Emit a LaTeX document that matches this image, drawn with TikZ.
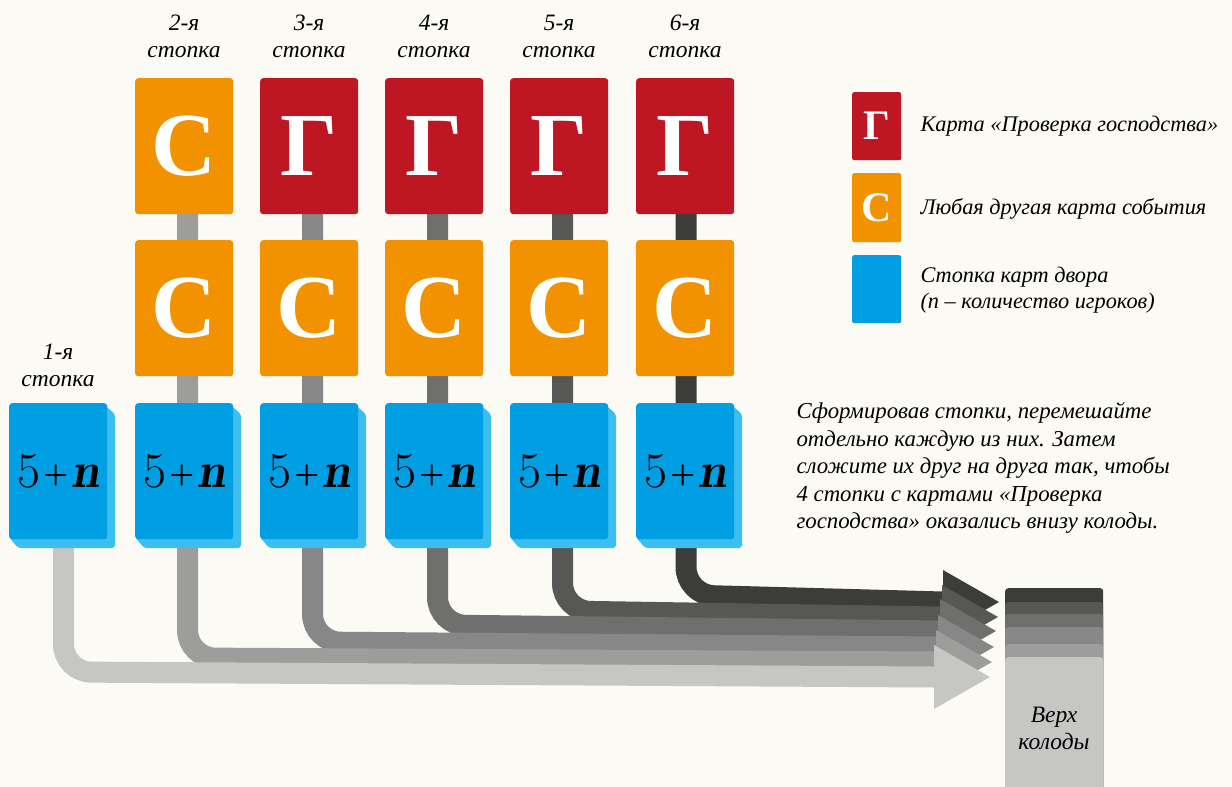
\documentclass[tikz,border=0pt]{standalone}
\usepackage{fontspec}
\setmainfont{Liberation Serif}
\usetikzlibrary{calc}
\definecolor{bgc}{HTML}{FBFAF5}
\definecolor{gred}{HTML}{BE1622}
\definecolor{sorange}{HTML}{F39200}
\definecolor{bblue}{HTML}{009FE3}
\definecolor{bshade}{HTML}{3DBEEF}
\definecolor{g1}{HTML}{C6C6C5}
\definecolor{g2}{HTML}{9D9D9C}
\definecolor{g3}{HTML}{878787}
\definecolor{g4}{HTML}{6F6F6E}
\definecolor{g5}{HTML}{575756}
\definecolor{g6}{HTML}{3C3C3B}
\tikzset{
  card/.style={rounded corners=3pt, minimum width=98pt, minimum height=136pt, inner sep=0pt, anchor=north west, text=white, font=\fontsize{90}{94}\selectfont\bfseries},
  cardG/.style={card, fill=gred},
  cardS/.style={card, fill=sorange},
  cardB/.style={card, fill=bblue, text=black, font=\fontfamily{lmr}\fontsize{50}{60}\selectfont},
  lgbox/.style={rounded corners=2pt, minimum width=49pt, minimum height=68pt, inner sep=0pt, anchor=north west, text=white, font=\fontsize{42}{46}\selectfont\bfseries},
  lbl/.style={align=center, font=\fontsize{23.5}{27}\selectfont\itshape},
  txt/.style={align=left, anchor=west, font=\fontsize{22.3}{26}\selectfont\itshape},
  bar/.style={line width=21pt, rounded corners=28pt, line cap=butt},
  layer/.style={rounded corners=3pt, minimum width=98pt, inner sep=0pt, anchor=north west}
}
\newcommand{\fivn}{5\kern3pt{\bfseries\fontsize{32}{32}\selectfont\raisebox{4pt}{+}}\kern3pt{\bfseries\itshape n}}
\begin{document}
\begin{tikzpicture}[x=1pt,y=-1pt]
\fill[bgc] (0,0) rectangle (1232,787);
\useasboundingbox (0,0) rectangle (1232,787);

% deck layers
\node[layer, fill=g6, minimum height=220pt] (d6) at (1005,588) {};
\node[layer, fill=g5, minimum height=210pt] (d5) at (1005,602) {};
\node[layer, fill=g4, minimum height=200pt] (d4) at (1005,614) {};
\node[layer, fill=g3, minimum height=190pt] (d3) at (1005,627) {};
\node[layer, fill=g2, minimum height=170pt] (d2) at (1005,644) {};
\node[layer, fill=g1, minimum height=150pt] (d1) at (1005,657) {};
\node[lbl] (top) at (1054,728) {Верх\\колоды};

% coordinates for the flows
\coordinate (s1) at (63.5,470);  \coordinate (k1) at (63.5,672);  \coordinate (a1) at (934,677);
\coordinate (s2) at (187.5,150); \coordinate (k2) at (187.5,658); \coordinate (a2) at (936,662);
\coordinate (s3) at (312.5,150); \coordinate (k3) at (312.5,642); \coordinate (a3) at (938,647);
\coordinate (s4) at (437.5,150); \coordinate (k4) at (437.5,625); \coordinate (a4) at (940,631);
\coordinate (s5) at (562.5,150); \coordinate (k5) at (562.5,611); \coordinate (a5) at (942,617);
\coordinate (s6) at (686,150);   \coordinate (k6) at (686,595);   \coordinate (a6) at (943,602);

\foreach \i/\c in {6/g6,5/g5,4/g4,3/g3,2/g2,1/g1}{
  \draw[bar, draw=\c] (s\i) -- (k\i) -- (a\i);
  \fill[\c] ($(a\i)+(0,-32)$) -- ($(a\i)+(56,0)$) -- ($(a\i)+(0,32)$) -- cycle;
}

% blue cards with shading
\foreach \i/\x in {1/9,2/135,3/260,4/385,5/510,6/636}{
  \fill[bshade, rounded corners=3pt] (\x+93,403) -- (\x+106,414) -- (\x+106,548) -- (\x+9,548) -- (\x,537) -- (\x,420) -- cycle;
  \node[cardB] (b\i) at (\x,403) {\fivn};
}
% middle row
\foreach \i/\x in {2/135,3/260,4/385,5/510,6/636}{
  \node[cardS] (m\i) at (\x,240) {С};
}
% top row
\node[cardS] (t2) at (135,78) {С};
\node[cardG] (t3) at (260,78) {Г};
\node[cardG] (t4) at (385,78) {Г};
\node[cardG] (t5) at (510,78) {Г};
\node[cardG] (t6) at (636,78) {Г};

% column labels
\node[lbl] (l1) at (58,365) {1-я\\стопка};
\node[lbl] (l2) at (184,36) {2-я\\стопка};
\node[lbl] (l3) at (309,36) {3-я\\стопка};
\node[lbl] (l4) at (434,36) {4-я\\стопка};
\node[lbl] (l5) at (559,36) {5-я\\стопка};
\node[lbl] (l6) at (685,36) {6-я\\стопка};

% legend
\node[lgbox, fill=gred] (lg1) at (852,92) {Г};
\node[lgbox, fill=sorange, minimum height=69pt] (lg2) at (852,173) {С};
\node[lgbox, fill=bblue] (lg3) at (852,255) {};
\node[txt] (lt1) at (917,126) {Карта «Проверка господства»};
\node[txt] (lt2) at (917,209) {Любая другая карта события};
\node[txt] (lt3) at (917,290) {Стопка карт двора\\(n – количество игроков)};

% instruction
\node[align=left, anchor=north west, font=\fontsize{22.8}{27.5}\selectfont\itshape] (note) at (793,399)
  {Сформировав стопки, перемешайте\\отдельно каждую из них. Затем\\сложите их друг на друга так, чтобы\\4 стопки с картами «Проверка\\господства» оказались внизу колоды.};
\end{tikzpicture}
\end{document}
